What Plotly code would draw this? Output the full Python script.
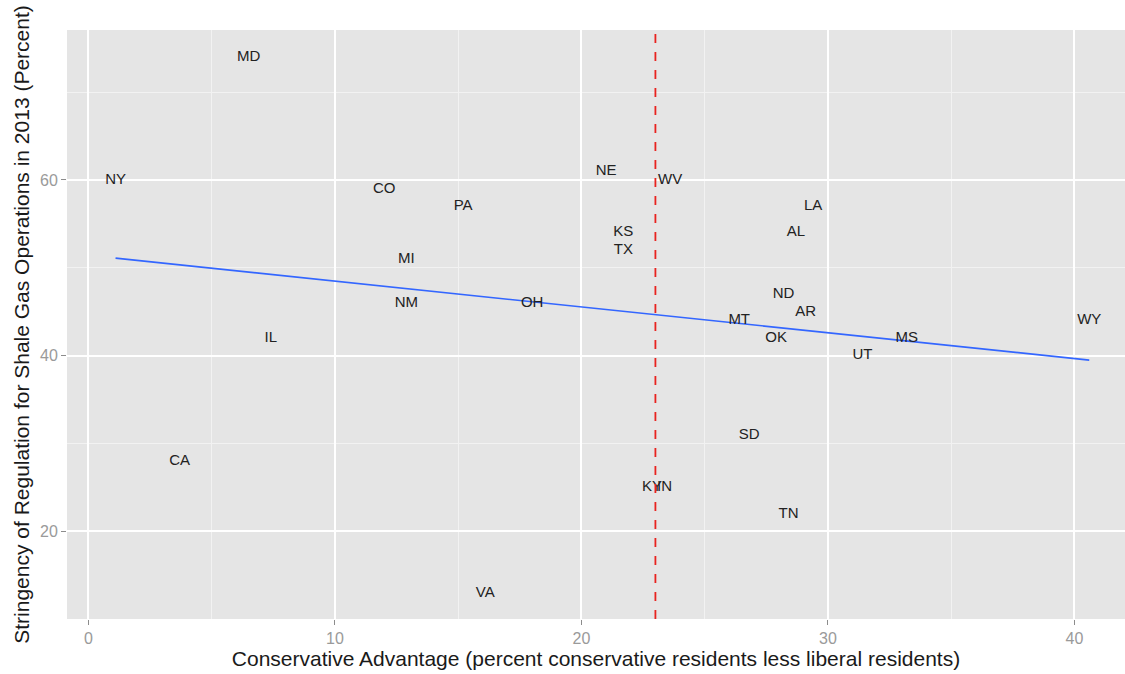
import plotly.graph_objects as go

states = ["MD", "NY", "CO", "PA", "NE", "WV", "KS", "TX", "LA", "AL", "ND", "AR",
          "MT", "OK", "UT", "OH", "MS", "WY", "MI", "NM", "IL", "CA", "VA", "SD",
          "KY", "IN", "TN"]
cons_adv = [6.5, 1.1, 12.0, 15.2, 21.0, 23.6, 21.7, 21.7, 29.4, 28.7, 28.2, 29.1,
            26.4, 27.9, 31.4, 18.0, 33.2, 40.6, 12.9, 12.9, 7.4, 3.7, 16.1, 26.8,
            22.86, 23.37, 28.4]
stringency = [74, 60, 59, 57, 61, 60, 54, 52, 57, 54, 47, 45,
              44, 42, 40, 46, 42, 44, 51, 46, 42, 28, 13, 31,
              25, 25, 22]

fit_x = [1.1, 40.6]
fit_y = [51.1, 39.5]
mean_adv = 23.0

x_ticks = [0, 10, 20, 30, 40]
y_ticks = [20, 40, 60]

FONT = "Liberation Sans, Arial, Helvetica, sans-serif"

fig = go.Figure()

fig.add_trace(go.Scatter(
    x=fit_x, y=fit_y, mode="lines",
    line=dict(color="#3366FF", width=1.6),
    hoverinfo="skip", showlegend=False,
))

fig.add_trace(go.Scatter(
    x=cons_adv, y=stringency, mode="text", text=states,
    textposition="middle center",
    textfont=dict(family=FONT, size=15, color="#222222"),
    showlegend=False,
))

fig.add_vline(x=mean_adv, line=dict(color="#E8231F", width=1.8, dash="dash"))

fig.update_layout(
    width=1125, height=674,
    margin=dict(l=67, r=0, t=30, b=55),
    paper_bgcolor="white",
    plot_bgcolor="#E5E5E5",
    font=dict(family=FONT),
    showlegend=False,
)

fig.update_xaxes(
    range=[-0.87, 42.05],
    tickvals=x_ticks,
    ticktext=[str(v) for v in x_ticks],
    showgrid=True, gridcolor="white", gridwidth=1.8,
    minor=dict(dtick=5, tick0=0, showgrid=True, gridcolor="#F2F2F2", gridwidth=0.9, ticks=""),
    zeroline=False, showline=False,
    ticks="outside", ticklen=5, tickcolor="#8C8C8C", tickwidth=1.2,
    tickfont=dict(size=16, color="#9A9A9A"),
    title=dict(text="Conservative Advantage (percent conservative residents less liberal residents)",
               font=dict(size=21, color="#1A1A1A"), standoff=5),
)

fig.update_yaxes(
    range=[10.03, 77.07],
    tickvals=y_ticks,
    ticktext=[str(v) for v in y_ticks],
    showgrid=True, gridcolor="white", gridwidth=1.8,
    minor=dict(dtick=10, tick0=0, showgrid=True, gridcolor="#F2F2F2", gridwidth=0.9, ticks=""),
    zeroline=False, showline=False,
    ticks="outside", ticklen=5, tickcolor="#8C8C8C", tickwidth=1.2,
    tickfont=dict(size=16, color="#9A9A9A"),
    title=dict(text="Stringency of Regulation for Shale Gas Operations in 2013 (Percent)",
               font=dict(size=21, color="#1A1A1A"), standoff=4),
)

fig.write_html("out.html", config={"displayModeBar": False},
               post_script="document.body.style.margin='0';")
